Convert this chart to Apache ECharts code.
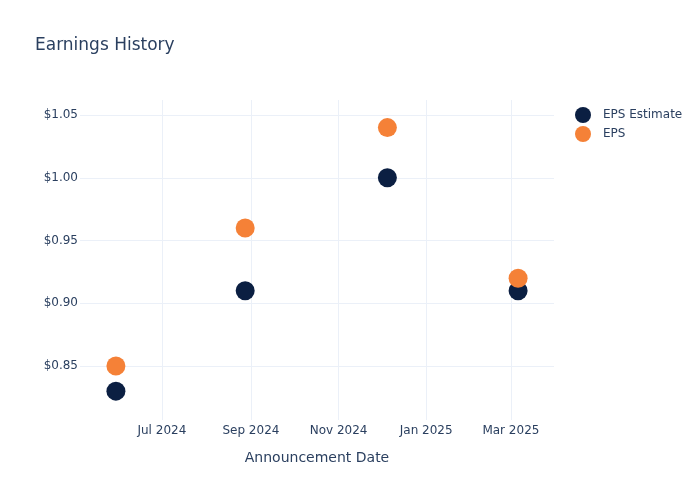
<!DOCTYPE html>
<html><head><meta charset="utf-8">
<script src="https://cdn.jsdelivr.net/npm/echarts@6/dist/echarts.min.js"></script>
<style>html,body{margin:0;padding:0;background:#fff}#c{width:700px;height:500px}</style>
</head><body><div id="c"></div>
<script>
const dates = ['2024-05-30', '2024-08-28', '2024-12-05', '2025-03-06'];
const epsEstimate = [0.83, 0.91, 1.00, 0.91];
const eps = [0.85, 0.96, 1.04, 0.92];
const xTickDates = ['2024-07-01', '2024-09-01', '2024-11-01', '2025-01-01', '2025-03-01'];
const xTickLabels = ['Jul 2024', 'Sep 2024', 'Nov 2024', 'Jan 2025', 'Mar 2025'];
const yTicks = [0.85, 0.90, 0.95, 1.00, 1.05];

const ts = d => new Date(d + 'T00:00:00Z').getTime();
const xTicks = xTickDates.map(ts);
const font = 'DejaVu Sans';
const txt = '#2a3f5f';
const chart = echarts.init(document.getElementById('c'));
chart.setOption({
  animation: false,
  textStyle: { fontFamily: font },
  title: { text: 'Earnings History', left: 30, top: 32, textStyle: { fontFamily: font, fontSize: 17, fontWeight: 'normal', color: txt } },
  legend: {
    orient: 'vertical', left: 570, top: 102, itemGap: 3, itemWidth: 16, itemHeight: 16,
    icon: 'circle', textStyle: { fontFamily: font, fontSize: 12, color: txt, padding: [0, 0, 0, 7] },
    data: ['EPS Estimate', 'EPS']
  },
  grid: { left: 80, right: 146, top: 100, bottom: 80 },
  xAxis: {
    type: 'value',
    min: ts('2024-05-05'), max: ts('2025-03-31'),
    name: 'Announcement Date', nameLocation: 'middle', nameGap: 31,
    nameTextStyle: { fontFamily: font, fontSize: 14, color: txt },
    axisLine: { show: false }, axisTick: { show: false, customValues: xTicks },
    axisLabel: {
      customValues: xTicks, color: txt, fontFamily: font, fontSize: 12, margin: 5,
      formatter: v => { const i = xTicks.indexOf(v); return i >= 0 ? xTickLabels[i] : ''; }
    },
    splitLine: { show: true, lineStyle: { color: '#ebf0f8', width: 1 } }
  },
  yAxis: {
    type: 'value', min: 0.807, max: 1.062,
    axisLine: { show: false }, axisTick: { show: false, customValues: yTicks },
    axisLabel: {
      customValues: yTicks, color: txt, fontFamily: font, fontSize: 12, margin: 2,
      formatter: v => '$' + v.toFixed(2)
    },
    splitLine: { show: true, lineStyle: { color: '#ebf0f8', width: 1 } }
  },
  series: [
    { name: 'EPS Estimate', type: 'scatter', symbolSize: 19, itemStyle: { color: '#0b1f42', opacity: 1 },
      data: dates.map((d, i) => [ts(d), epsEstimate[i]]) },
    { name: 'EPS', type: 'scatter', symbolSize: 19, itemStyle: { color: '#f58137', opacity: 1 },
      data: dates.map((d, i) => [ts(d), eps[i]]) }
  ]
});
</script></body></html>
